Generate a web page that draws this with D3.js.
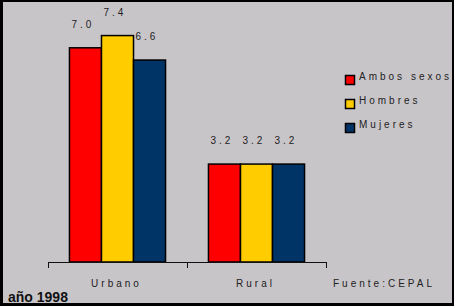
<!DOCTYPE html>
<html>
<head>
<meta charset="utf-8">
<script src="https://cdn.jsdelivr.net/npm/d3@7"></script>
<style>
  html, body { margin: 0; padding: 0; background: #000; }
  svg { display: block; }
  .lbl { font-family: "Liberation Sans", Arial, sans-serif; font-size: 10px; letter-spacing: 3px; fill: #222; }
</style>
</head>
<body>
<div id="chart"></div>
<script>
'use strict'
// data
const categories = ['Urbano', 'Rural'];
const seriesNames = ['Ambos sexos', 'Hombres', 'Mujeres'];
const ambosSexos = [7.0, 3.2];
const hombres = [7.4, 3.2];
const mujeres = [6.6, 3.2];
const valueLabels = [['7.0', '3.2'], ['7.4', '3.2'], ['6.6', '3.2']];

const svgWidth = 454, svgHeight = 306;
const colors = ['#ff0000', '#ffcc00', '#003366'];
const seriesValues = [ambosSexos, hombres, mujeres];

const svg = d3.select('#chart').append('svg')
    .attr('width', svgWidth)
    .attr('height', svgHeight);

// background + black frame
svg.append('rect')
    .attr('x', 0).attr('y', 0)
    .attr('width', svgWidth).attr('height', svgHeight)
    .attr('fill', '#000');
svg.append('rect')
    .attr('x', 3).attr('y', 2)
    .attr('width', svgWidth - 5).attr('height', svgHeight - 5)
    .attr('fill', '#c8c5c9');

// scales
const baseY = 262;
const yScale = d3.scaleLinear().domain([0, 8]).range([baseY, 17.2]);
const xScale0 = d3.scaleBand().domain(categories).range([48, 326]).paddingInner(0).paddingOuter(0);
const xScale1 = d3.scaleBand().domain(seriesNames).range([0, xScale0.bandwidth()])
    .paddingInner(0).paddingOuter(0.67);

// bars
const groups = svg.selectAll('g.barGroup')
    .data(categories)
    .join('g')
    .attr('class', 'barGroup')
    .attr('transform', d => `translate(${xScale0(d)},0)`);

groups.selectAll('rect')
    .data((c, ci) => seriesNames.map((s, si) => ({ s, si, v: seriesValues[si][ci], label: valueLabels[si][ci] })))
    .join('rect')
    .attr('x', d => xScale1(d.s))
    .attr('y', d => yScale(d.v))
    .attr('width', xScale1.bandwidth())
    .attr('height', d => baseY - yScale(d.v))
    .attr('fill', d => colors[d.si])
    .attr('stroke', '#000')
    .attr('stroke-width', 1.5);

// value labels
groups.selectAll('text.val')
    .data((c, ci) => seriesNames.map((s, si) => ({ s, si, v: seriesValues[si][ci], label: valueLabels[si][ci] })))
    .join('text')
    .attr('class', 'lbl val')
    .attr('x', d => xScale1(d.s) + 2)
    .attr('y', d => yScale(d.v) - 20)
    .text(d => d.label);

// x axis: baseline with ticks at band edges
const edges = categories.map(c => xScale0(c)).concat([xScale0.range()[1]]);
svg.append('line')
    .attr('x1', edges[0]).attr('x2', edges[edges.length - 1])
    .attr('y1', baseY + 0.5).attr('y2', baseY + 0.5)
    .attr('stroke', '#111').attr('stroke-width', 1);
svg.selectAll('line.tick')
    .data(edges)
    .join('line')
    .attr('class', 'tick')
    .attr('x1', d => d + 0.5).attr('x2', d => d + 0.5)
    .attr('y1', baseY).attr('y2', baseY + 6)
    .attr('stroke', '#111').attr('stroke-width', 1);

svg.selectAll('text.cat')
    .data(categories)
    .join('text')
    .attr('class', 'lbl cat')
    .attr('x', d => xScale0(d) + xScale0.bandwidth() / 2 - 1)
    .attr('y', baseY + 25)
    .attr('text-anchor', 'middle')
    .text(d => d);

// legend
const legend = svg.append('g').attr('transform', 'translate(345, 75)');
const items = legend.selectAll('g')
    .data(seriesNames)
    .join('g')
    .attr('transform', (d, i) => `translate(0, ${i * 24})`);
items.append('rect')
    .attr('x', 0.5).attr('y', 0.5)
    .attr('width', 9).attr('height', 9)
    .attr('fill', (d, i) => colors[i])
    .attr('stroke', '#000').attr('stroke-width', 1.5);
items.append('text')
    .attr('class', 'lbl')
    .attr('x', 14).attr('y', 5)
    .text(d => d);

// source + year
svg.append('text')
    .attr('class', 'lbl')
    .attr('x', 333).attr('y', baseY + 25)
    .text('Fuente:CEPAL');

svg.append('text')
    .attr('x', 8).attr('y', 302)
    .attr('font-family', '"Liberation Sans", Arial, sans-serif')
    .attr('font-size', '14px')
    .attr('font-weight', 'bold')
    .attr('fill', '#111')
    .text('año 1998');
</script>
</body>
</html>
